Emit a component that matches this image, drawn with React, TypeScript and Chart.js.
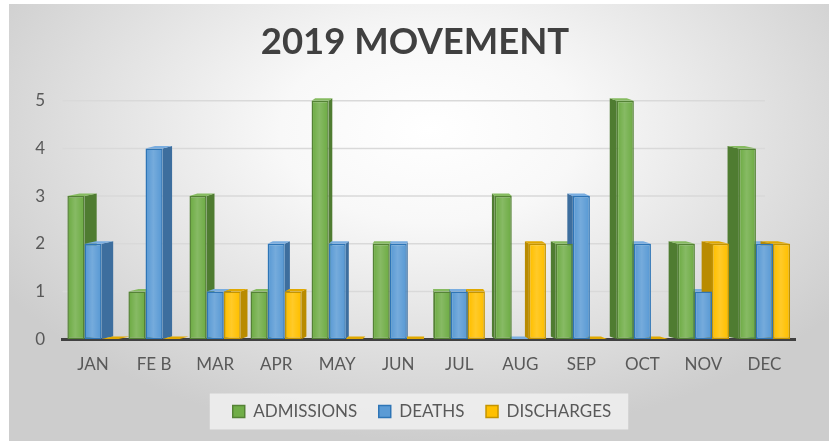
import React, { useEffect, useRef } from "react";
import { Chart, registerables } from "chart.js";

Chart.register(...registerables);

const categories = ["JAN", "FE B", "MAR", "APR", "MAY", "JUN", "JUL", "AUG", "SEP", "OCT", "NOV", "DEC"];
const admissions = [3, 1, 3, 1, 5, 2, 1, 3, 2, 5, 2, 4];
const deaths = [2, 4, 1, 2, 2, 2, 1, 0, 3, 2, 1, 2];
const discharges = [0, 0, 1, 1, 0, 0, 1, 2, 0, 0, 2, 2];
const yTickValues = [0, 1, 2, 3, 4, 5];
const seriesNames = ["ADMISSIONS", "DEATHS", "DISCHARGES"];
const titleText = "2019 MOVEMENT";

const frontColors = ["#70ad47", "#5b9bd5", "#ffc000"];
const borderColors = ["#548235", "#2e75b6", "#c49400"];
const sideColors = ["#4f7c31", "#3d6e9e", "#b98b00"];
const topColors = ["#86bb60", "#79ade0", "#e0a800"];

const FONT = "Lato, 'Open Sans', sans-serif";
const LEGEND_PAD = 21.5;
const LEGEND_FONT = 17;

const backgroundPlugin = {
  id: "bgbox",
  afterLayout(chart: any) {
    const lg = chart.legend;
    if (lg) {
      lg.left += 7;
      lg.right += 7;
    }
  },
  beforeDraw(chart: any) {
    const ctx = chart.ctx;
    const W = chart.width;
    const H = chart.height;
    ctx.save();
    ctx.fillStyle = "#ffffff";
    ctx.fillRect(0, 0, W, H);
    const bx = 9, by = 4, bw = W - 10, bh = H - 4;
    ctx.beginPath();
    ctx.rect(bx, by, bw, bh);
    ctx.clip();
    ctx.translate(430, 130);
    ctx.scale(1, 0.62);
    const g = ctx.createRadialGradient(0, 0, 0, 0, 0, 500);
    g.addColorStop(0, "#ffffff");
    g.addColorStop(0.3, "#f8f8f8");
    g.addColorStop(1, "#cdcdcd");
    ctx.fillStyle = g;
    ctx.fillRect(-600, -600, 1400, 1400);
    ctx.restore();

    const lg = chart.legend;
    if (lg && lg.lineWidths && lg.lineWidths.length) {
      const lw = lg.lineWidths[0];
      const start = (lg.left + LEGEND_PAD + lg.right - lw) / 2;
      const end = start + lw - LEGEND_PAD;
      const cy = lg.top + LEGEND_PAD + LEGEND_FONT / 2;
      ctx.save();
      ctx.fillStyle = "rgba(240,240,240,0.85)";
      ctx.fillRect(start - 23, cy - 18, end - start + 40, 36);
      ctx.restore();
    }
  },
};

const K = 0.035;
const DY = 2.5;

const depthPlugin = {
  id: "depth",
  beforeDatasetsDraw(chart: any) {
    const ctx = chart.ctx;
    const area = chart.chartArea;
    const yScale = chart.scales.y;
    ctx.save();
    ctx.strokeStyle = "#d9d9d9";
    ctx.lineWidth = 1.5;
    yTickValues.forEach((v) => {
      if (v === 0) return;
      const py = yScale.getPixelForValue(v);
      ctx.beginPath();
      ctx.moveTo(area.left, py);
      ctx.lineTo(area.right - 30, py);
      ctx.stroke();
    });
    const cx = (area.left + area.right) / 2 - 4;
    chart.data.datasets.forEach((_ds: any, di: number) => {
      const meta = chart.getDatasetMeta(di);
      meta.data.forEach((bar: any) => {
        const { x, y, base, width } = bar.getProps(["x", "y", "base", "width"], true);
        const left = x - width / 2;
        const right = x + width / 2;
        const dx = (cx - x) * K;
        ctx.fillStyle = sideColors[di];
        ctx.beginPath();
        if (dx >= 0) {
          ctx.moveTo(right, y);
          ctx.lineTo(right + dx, y - DY);
          ctx.lineTo(right + dx, base - DY);
          ctx.lineTo(right, base);
        } else {
          ctx.moveTo(left, y);
          ctx.lineTo(left + dx, y - DY);
          ctx.lineTo(left + dx, base - DY);
          ctx.lineTo(left, base);
        }
        ctx.closePath();
        ctx.fill();
        ctx.fillStyle = topColors[di];
        ctx.beginPath();
        ctx.moveTo(left, y);
        ctx.lineTo(right, y);
        ctx.lineTo(right + dx, y - DY);
        ctx.lineTo(left + dx, y - DY);
        ctx.closePath();
        ctx.fill();
      });
    });
    ctx.restore();
  },
  afterDatasetsDraw(chart: any) {
    const ctx = chart.ctx;
    ctx.save();
    chart.data.datasets.forEach((_ds: any, di: number) => {
      const meta = chart.getDatasetMeta(di);
      meta.data.forEach((bar: any) => {
        const { x, y, base, width } = bar.getProps(["x", "y", "base", "width"], true);
        if (base - y < 2) return;
        const left = x - width / 2 + 1.5;
        const right = x + width / 2 - 1.5;
        const g = ctx.createLinearGradient(left, 0, right, 0);
        g.addColorStop(0, "rgba(255,255,255,0)");
        g.addColorStop(0.45, "rgba(255,255,255,0.16)");
        g.addColorStop(1, "rgba(255,255,255,0)");
        ctx.fillStyle = g;
        ctx.fillRect(left, y + 1.5, right - left, base - y - 3);
      });
    });
    ctx.restore();
  },
};

export default function App() {
  const ref = useRef<HTMLCanvasElement | null>(null);
  useEffect(() => {
    if (!ref.current) return;
    const data = [admissions, deaths, discharges];
    const chart = new Chart(ref.current, {
      type: "bar",
      data: {
        labels: categories,
        datasets: seriesNames.map((name, i) => ({
          label: name,
          data: data[i],
          backgroundColor: frontColors[i],
          borderColor: borderColors[i],
          borderWidth: 1.5,
          borderSkipped: false,
          categoryPercentage: 0.84,
          barPercentage: 1.0,
        })),
      },
      options: {
        animation: false,
        responsive: true,
        maintainAspectRatio: false,
        layout: { padding: { left: 35, right: 35, top: 20, bottom: 11 } },
        plugins: {
          title: {
            display: true,
            text: titleText,
            color: "#404040",
            font: { family: FONT, size: 36.5, weight: "bold" },
            padding: { top: 0, bottom: 37 },
          },
          legend: {
            position: "bottom",
            labels: {
              color: "#595959",
              font: { family: FONT, size: LEGEND_FONT },
              boxWidth: 12,
              boxHeight: 12,
              padding: LEGEND_PAD,
            },
          },
          tooltip: { enabled: false },
        },
        scales: {
          x: {
            grid: { display: false },
            border: { display: true, color: "#404040", width: 3 },
            ticks: { color: "#595959", font: { family: FONT, size: 17 }, padding: 7 },
          },
          y: {
            min: 0,
            max: 5,
            afterBuildTicks: (axis: any) => {
              axis.ticks = yTickValues.map((v) => ({ value: v }));
            },
            afterFit: (axis: any) => {
              axis.width = 27.5;
            },
            grid: { display: false, drawTicks: false },
            border: { display: false },
            ticks: { color: "#595959", font: { family: FONT, size: 17 }, padding: 17.5 },
          },
        },
      },
      plugins: [backgroundPlugin, depthPlugin],
    });
    return () => chart.destroy();
  }, []);
  return (
    <div style={{ position: "fixed", left: 0, top: 0, width: 830, height: 441 }}>
      <canvas ref={ref} />
    </div>
  );
}
